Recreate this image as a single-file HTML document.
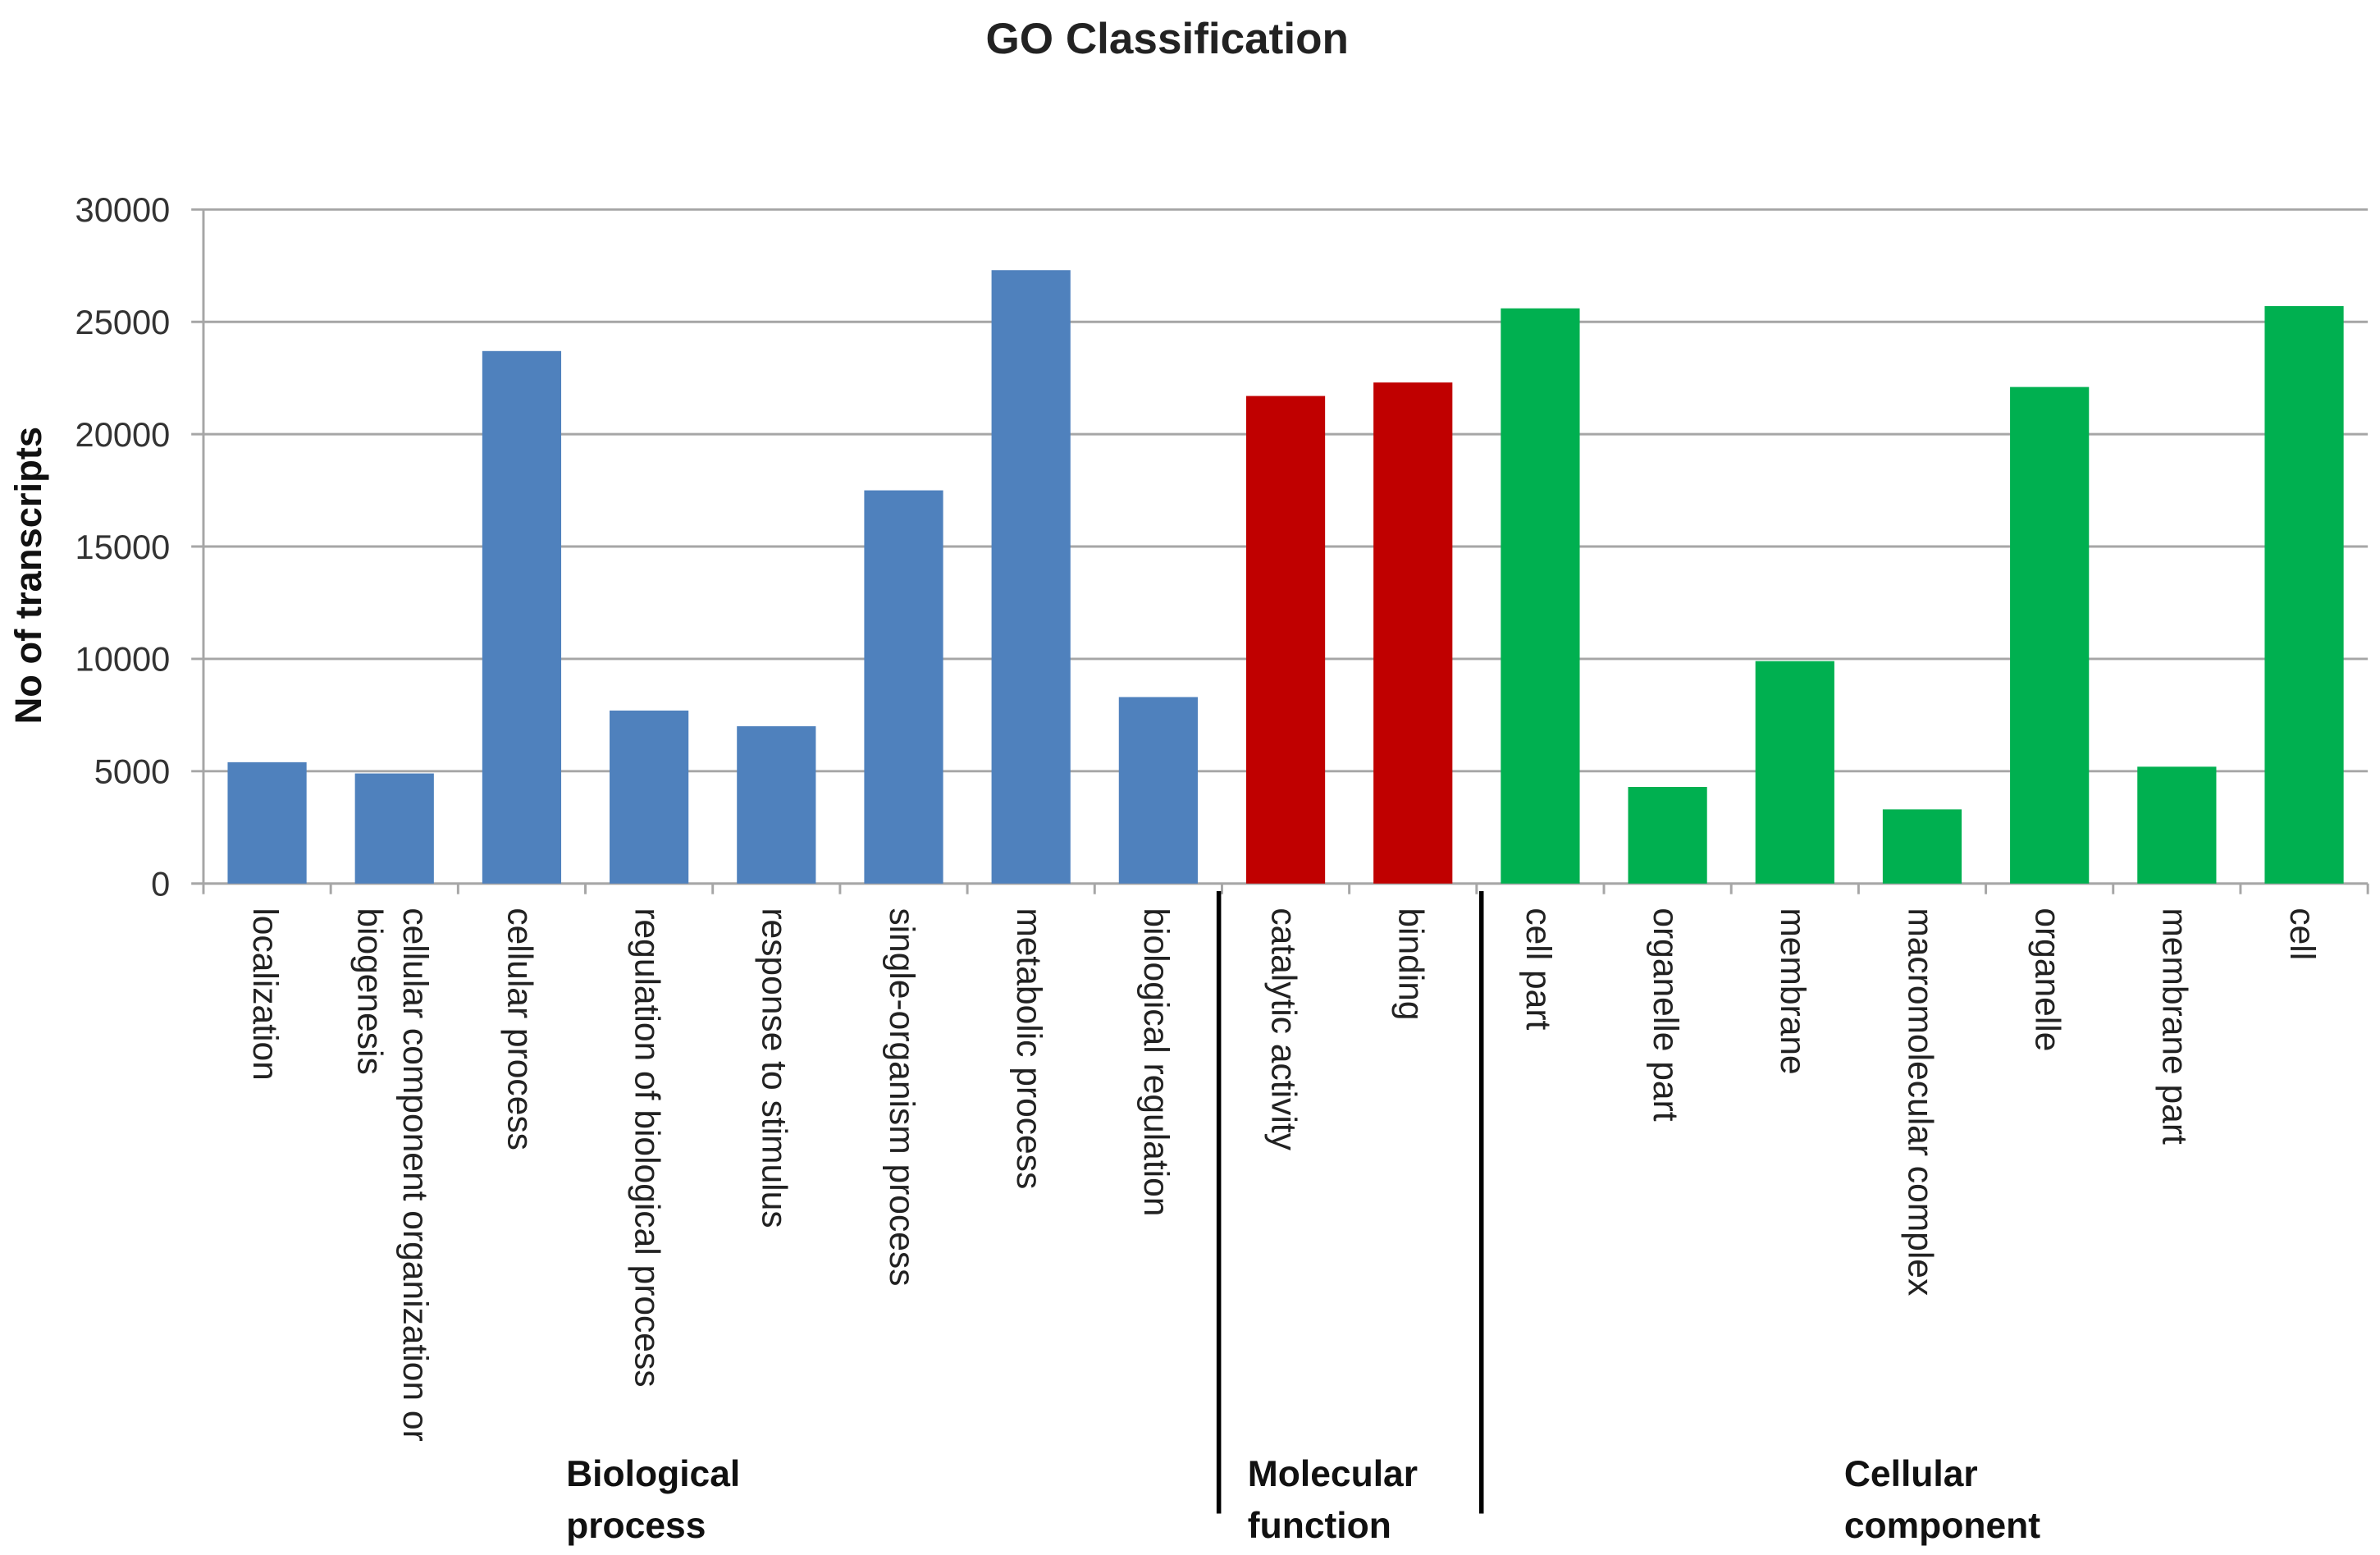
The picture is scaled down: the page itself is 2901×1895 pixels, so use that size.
<!DOCTYPE html>
<html><head><meta charset="utf-8"><style>
html,body{margin:0;padding:0;background:#fff;}
svg{display:block;font-family:"Liberation Sans",sans-serif;}
</style></head><body>
<svg id="chart" width="2901" height="1895" viewBox="0 0 1568 1024.3" xmlns="http://www.w3.org/2000/svg">
<text x="769" y="35" text-anchor="middle" font-size="28.7" font-weight="bold" fill="#222">GO Classification</text>
<text transform="translate(27,379) rotate(-90)" text-anchor="middle" font-size="24.5" font-weight="bold" fill="#111">No of transcripts</text>
<g id="grid"></g><g id="bars"></g><g id="xlabels"></g>
<line x1="803" y1="587" x2="803" y2="997" stroke="#000" stroke-width="3"/>
<line x1="976" y1="587" x2="976" y2="997" stroke="#000" stroke-width="3"/>
<g font-size="24" font-weight="bold" fill="#111">
<text x="373" y="979">Biological<tspan x="373" dy="34">process</tspan></text>
<text x="822" y="979">Molecular<tspan x="822" dy="34">function</tspan></text>
<text x="1215" y="979">Cellular<tspan x="1215" dy="34">component</tspan></text>
</g>
</svg>
<script>
const categories=["localization","cellular component organization or|biogenesis","cellular process","regulation of biological process","response to stimulus","single-organism process","metabolic process","biological regulation","catalytic activity","binding","cell part","organelle part","membrane","macromolecular complex","organelle","membrane part","cell"];
const values=[5400,4900,23700,7700,7000,17500,27300,8300,21700,22300,25600,4300,9900,3300,22100,5200,25700];
const groups=["bp","bp","bp","bp","bp","bp","bp","bp","mf","mf","cc","cc","cc","cc","cc","cc","cc"];
const yTicks=[0,5000,10000,15000,20000,25000,30000];
const NS="http://www.w3.org/2000/svg";
const X0=134,X1=1560,Y0=582,Y1=138,YMAX=30000;
const colors={bp:"#4f81bd",mf:"#c00000",cc:"#00b050"};
const step=(X1-X0)/categories.length;
function yScale(v){return Y0-(v/YMAX)*(Y0-Y1);}
function xCenter(i){return X0+step*(i+0.5);}
function mk(t,a,p){const e=document.createElementNS(NS,t);for(const k in a)e.setAttribute(k,a[k]);p.appendChild(e);return e;}
const grid=document.getElementById('grid');
yTicks.forEach(t=>{
  const y=yScale(t);
  const l=mk('line',{x1:X0-8,y1:y,x2:X1,y2:y,stroke:"#a6a6a6","stroke-width":1.6},grid);
  
  
  const tx=mk('text',{x:112,y:y+8,"text-anchor":"end","font-size":22.5,fill:"#333"},grid);
  tx.textContent=t;
  
  
});
const ax=mk('line',{x1:X0,y1:Y1,x2:X0,y2:Y0,stroke:"#a6a6a6","stroke-width":1.6},grid);


for(let i=0;i<=categories.length;i++){
  const x=X0+step*i;
  const tk=mk('line',{x1:x,y1:Y0,x2:x,y2:Y0+7,stroke:"#a6a6a6","stroke-width":1.6},grid);
  
  
}
const bars=document.getElementById('bars'),xl=document.getElementById('xlabels');
const bw=52;
categories.forEach((c,i)=>{
  const cx=xCenter(i),y=yScale(values[i]);
  const r=mk('rect',{x:cx-bw/2,y:y,width:bw,height:Y0-y,fill:colors[groups[i]]},bars);
  
  
  const lines=c.split('|');
  const t=mk('text',{transform:`translate(${cx-9+(lines.length-1)*15},598) rotate(90)`,"font-size":23,fill:"#222"},xl);
  lines.forEach((ln,j)=>{const s=mk('tspan',{x:0,dy:j?30:0},t);s.textContent=ln;});
  
  
});
</script>
</body></html>
